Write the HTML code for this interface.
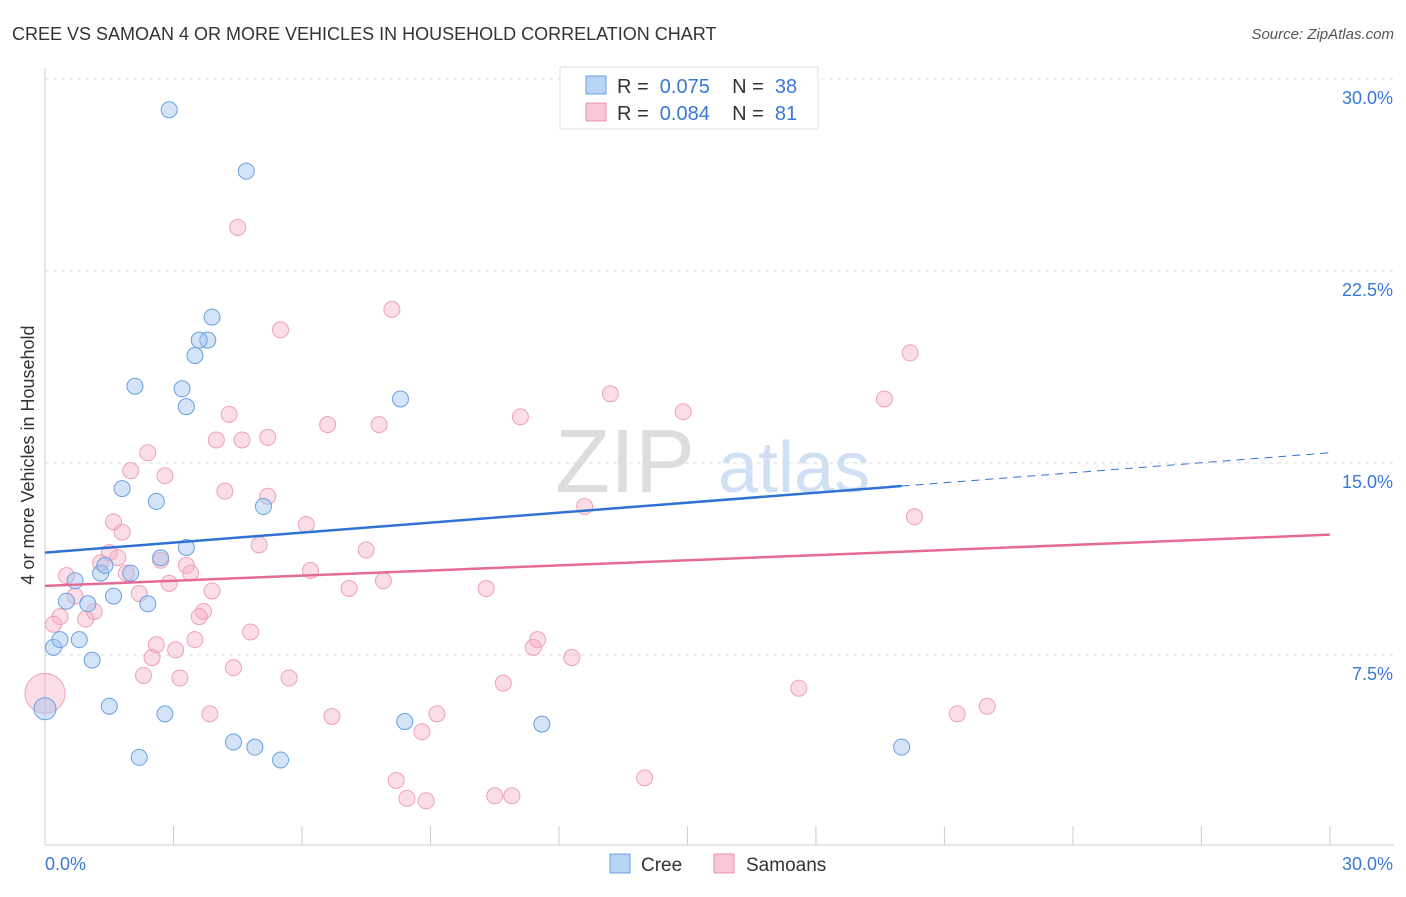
<!DOCTYPE html>
<html><head><meta charset="utf-8"><style>
body{margin:0;background:#fff;font-family:"Liberation Sans",sans-serif}
svg text{font-family:"Liberation Sans",sans-serif}
</style></head><body>
<svg id="chart" width="1406" height="892">
<text x="12" y="40" font-size="18" fill="#333">CREE VS SAMOAN 4 OR MORE VEHICLES IN HOUSEHOLD CORRELATION CHART</text>
<text x="1394" y="39" font-size="15" fill="#555" text-anchor="end" font-style="italic">Source: ZipAtlas.com</text>
<text x="555" y="492" font-size="90" fill="#ddd" font-family="Liberation Serif">ZIP</text>
<text x="718" y="492" font-size="72" fill="#d0e0f4">atlas</text>
<g id="grid"></g><g id="axes"></g><g id="marks"></g>
<text x="34" y="455" font-size="18" fill="#333" text-anchor="middle" transform="rotate(-90 34 455)">4 or more Vehicles in Household</text>
<g>
<rect x="560" y="67" width="258" height="62" fill="#fff" stroke="#ddd"/>
<rect x="586" y="76" width="20" height="18" fill="#b8d4f4" stroke="#6a9fe0"/>
<rect x="586" y="103" width="20" height="18" fill="#f9c6d6" stroke="#ec8fae"/>
<text x="617" y="93" font-size="20" fill="#333" xml:space="preserve">R =  <tspan fill="#3a78d6">0.075</tspan>    N =  <tspan fill="#3a78d6">38</tspan></text>
<text x="617" y="120" font-size="20" fill="#333" xml:space="preserve">R =  <tspan fill="#3a78d6">0.084</tspan>    N =  <tspan fill="#3a78d6">81</tspan></text>
</g>
<g>
<rect x="610" y="854" width="20" height="19" fill="#b8d4f4" stroke="#6a9fe0"/>
<text x="641" y="871" font-size="19" fill="#333">Cree</text>
<rect x="714" y="854" width="20" height="19" fill="#f9c6d6" stroke="#ec8fae"/>
<text x="746" y="871" font-size="19" fill="#333">Samoans</text>
</g>
</svg>
<script>
const yTicks=[7.5,15,22.5,30];
const yTickLabels=["7.5%","15.0%","22.5%","30.0%"];
const creeX=[2.9,4.7,3.9,3.8,3.6,3.5,2.1,3.2,3.3,8.3,1.8,2.6,5.1,3.3,2.7,0.7,1.3,1.4,2.0,0.5,1.0,1.6,2.4,0.2,0.35,0.8,1.1,1.5,2.8,0.0,8.4,11.6,4.4,4.9,2.2,5.5,20.0];
const creeY=[28.8,26.4,20.7,19.8,19.8,19.2,18.0,17.9,17.2,17.5,14.0,13.5,13.3,11.7,11.3,10.4,10.7,11.0,10.7,9.6,9.5,9.8,9.5,7.8,8.1,8.1,7.3,5.5,5.2,5.4,4.9,4.8,4.1,3.9,3.5,3.4,3.9];
const samX=[4.5,8.1,5.5,20.2,13.2,19.6,14.9,11.1,4.3,6.6,7.8,4.0,4.6,5.2,2.4,2.8,2.0,4.2,5.2,12.6,20.3,6.1,1.6,1.8,5.0,7.5,1.5,1.7,1.3,2.7,3.3,6.2,0.5,1.9,3.4,7.9,2.9,7.1,10.3,3.9,2.2,0.7,0.35,0.95,1.15,3.7,3.6,0.2,4.8,3.5,11.5,11.4,2.6,2.5,3.05,12.3,4.4,2.3,3.15,5.7,10.7,17.6,3.85,6.7,9.15,21.3,22.0,8.8,8.2,14.0,8.45,8.9,10.5,10.9,0.0];
const samY=[24.2,21.0,20.2,19.3,17.7,17.5,17.0,16.8,16.9,16.5,16.5,15.9,15.9,16.0,15.4,14.5,14.7,13.9,13.7,13.3,12.9,12.6,12.7,12.3,11.8,11.6,11.5,11.3,11.1,11.2,11.0,10.8,10.6,10.7,10.7,10.4,10.3,10.1,10.1,10.0,9.9,9.8,9.0,8.9,9.2,9.2,9.0,8.7,8.4,8.1,8.1,7.8,7.9,7.4,7.7,7.4,7.0,6.7,6.6,6.6,6.4,6.2,5.2,5.1,5.2,5.2,5.5,4.5,2.6,2.7,1.9,1.8,2.0,2.0,6.0];
const creeLine=[11.5,14.1,15.4];const creeLineX=[0,20,30];
const samLine=[10.2,12.2];const samLineX=[0,30];
const X=v=>45+v*42.83, Y=v=>847-v*25.6;
const NS="http://www.w3.org/2000/svg";
function mk(p,t,a){const e=document.createElementNS(NS,t);for(const k in a)e.setAttribute(k,a[k]);p.appendChild(e);return e;}
const grid=document.getElementById('grid'),axes=document.getElementById('axes'),marks=document.getElementById('marks');
yTicks.forEach((t,i)=>{const l=mk(grid,'line',{x1:45,x2:1394,y1:Y(t),y2:Y(t),stroke:'#ddd','stroke-dasharray':'4 4'});


const tx=mk(axes,'text',{x:1393,y:Y(t)+25,'font-size':18,fill:'#3a78d6','text-anchor':'end'});tx.textContent=yTickLabels[i];

});
mk(axes,'line',{x1:45,x2:45,y1:68,y2:845,stroke:'#ccc'});
mk(axes,'line',{x1:45,x2:1394,y1:845,y2:845,stroke:'#ccc'});
for(let i=0;i<=10;i++){mk(axes,'line',{x1:X(i*3),x2:X(i*3),y1:826,y2:845,stroke:'#ccc'});}
let t=mk(axes,'text',{x:45,y:870,'font-size':18,fill:'#3a78d6'});t.textContent='0.0%';

t=mk(axes,'text',{x:1393,y:870,'font-size':18,fill:'#3a78d6','text-anchor':'end'});t.textContent='30.0%';

samX.forEach((v,i)=>{const c=mk(marks,'circle',{cx:X(v),cy:Y(samY[i]),r:i==samX.length-1?20:8,fill:'rgba(246,170,196,0.4)',stroke:'#eea0b9','stroke-width':1});

});
creeX.forEach((v,i)=>{const c=mk(marks,'circle',{cx:X(v),cy:Y(creeY[i]),r:i==29?11:8,fill:'rgba(160,196,240,0.45)',stroke:'#6a9fe0','stroke-width':1});

});
let l=mk(marks,'line',{x1:X(creeLineX[0]),y1:Y(creeLine[0]),x2:X(creeLineX[1]),y2:Y(creeLine[1]),stroke:'#2f72d4','stroke-width':2.5});

l=mk(marks,'line',{x1:X(creeLineX[1]),y1:Y(creeLine[1]),x2:X(creeLineX[2]),y2:Y(creeLine[2]),stroke:'#2f72d4','stroke-width':1,'stroke-dasharray':'8 6'});

l=mk(marks,'line',{x1:X(samLineX[0]),y1:Y(samLine[0]),x2:X(samLineX[1]),y2:Y(samLine[1]),stroke:'#e46a98','stroke-width':2.5});

</script>
</body></html>
